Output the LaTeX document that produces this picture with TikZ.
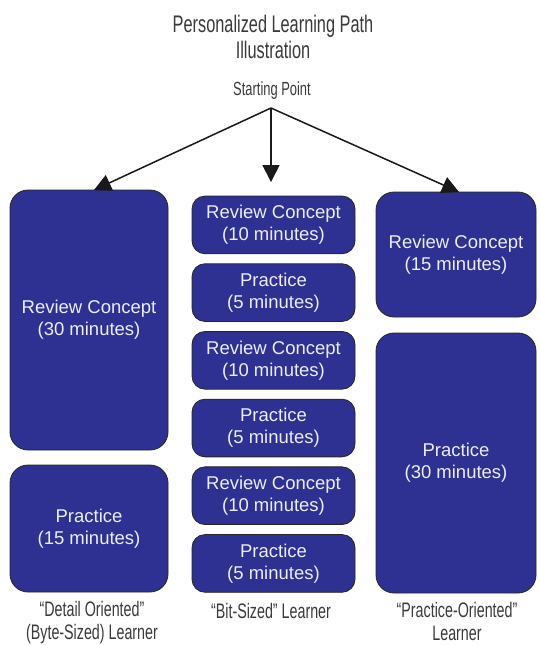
\documentclass[tikz,border=0pt]{standalone}
\usepackage{fontspec}
\setmainfont{Liberation Sans}
\newfontfamily\narrowfont[FakeStretch=0.68]{Liberation Sans}
\usetikzlibrary{arrows.meta}
\definecolor{boxblue}{RGB}{46,49,146}
\definecolor{boxtext}{RGB}{236,236,248}
\definecolor{inkgray}{RGB}{58,58,58}
\tikzset{
  stepblock/.style={draw=black!85, line width=0.8pt, fill=boxblue, text=boxtext,
    align=center, outer sep=0pt, inner sep=2pt, font=\fontsize{18.5}{22}\selectfont},
  bigblock/.style={stepblock, rounded corners=18pt},
  smallblock/.style={stepblock, rounded corners=13pt, minimum width=163pt, minimum height=57.7pt},
  caption/.style={text=inkgray, align=center, font=\narrowfont\fontsize{21}{23}\selectfont},
  path arrow/.style={-{Triangle[length=17pt,width=17pt]}, line width=1.5pt, black!90}
}
\begin{document}
\begin{tikzpicture}[x=1pt, y=-1pt]
    \useasboundingbox (0,0) rectangle (540,645);
    % title
    \node[text=inkgray, align=center, font=\narrowfont\fontsize{24}{26}\selectfont] (title) at (273,37) {Personalized Learning Path\\Illustration};
    \node[text=inkgray, font=\narrowfont\fontsize{19}{20}\selectfont] (start) at (272,91) {Starting Point};
    \coordinate (fork) at (271,108);
    % left column
    \node[bigblock, minimum width=158pt, minimum height=260pt] (detailreview) at (89,320) {Review Concept\\(30 minutes)};
    \node[bigblock, minimum width=158pt, minimum height=127pt] (detailpractice) at (89,528.5) {Practice\\(15 minutes)};
    % middle column
    \node[smallblock] (bitreviewa) at (273.5,224.9) {Review Concept\\(10 minutes)};
    \node[smallblock] (bitpracticea) at (273.5,292.6) {Practice\\(5 minutes)};
    \node[smallblock] (bitreviewb) at (273.5,360.3) {Review Concept\\(10 minutes)};
    \node[smallblock] (bitpracticeb) at (273.5,428) {Practice\\(5 minutes)};
    \node[smallblock] (bitreviewc) at (273.5,495.7) {Review Concept\\(10 minutes)};
    \node[smallblock] (bitpracticec) at (273.5,563.4) {Practice\\(5 minutes)};
    % right column
    \node[bigblock, minimum width=160pt, minimum height=125pt] (handsreview) at (456,254.5) {Review Concept\\(15 minutes)};
    \node[bigblock, minimum width=160pt, minimum height=260pt] (handspractice) at (456,463) {Practice\\(30 minutes)};
    % captions
    \node[caption] (detailcap) at (92,623) {“Detail Oriented”\\(Byte-Sized) Learner};
    \node[caption] (bitcap) at (271,611) {“Bit-Sized” Learner};
    \node[caption] (handscap) at (457,621) {“Practice-Oriented”\\Learner};
    % arrows
    \draw[path arrow] (fork) -- ([xshift=5pt]detailreview.north);
    \draw[path arrow, shorten >=14pt] (fork) -- (fork |- bitreviewa.north);
    \draw[path arrow] (fork) -- ([xshift=3pt]handsreview.north);
\end{tikzpicture}
\end{document}
